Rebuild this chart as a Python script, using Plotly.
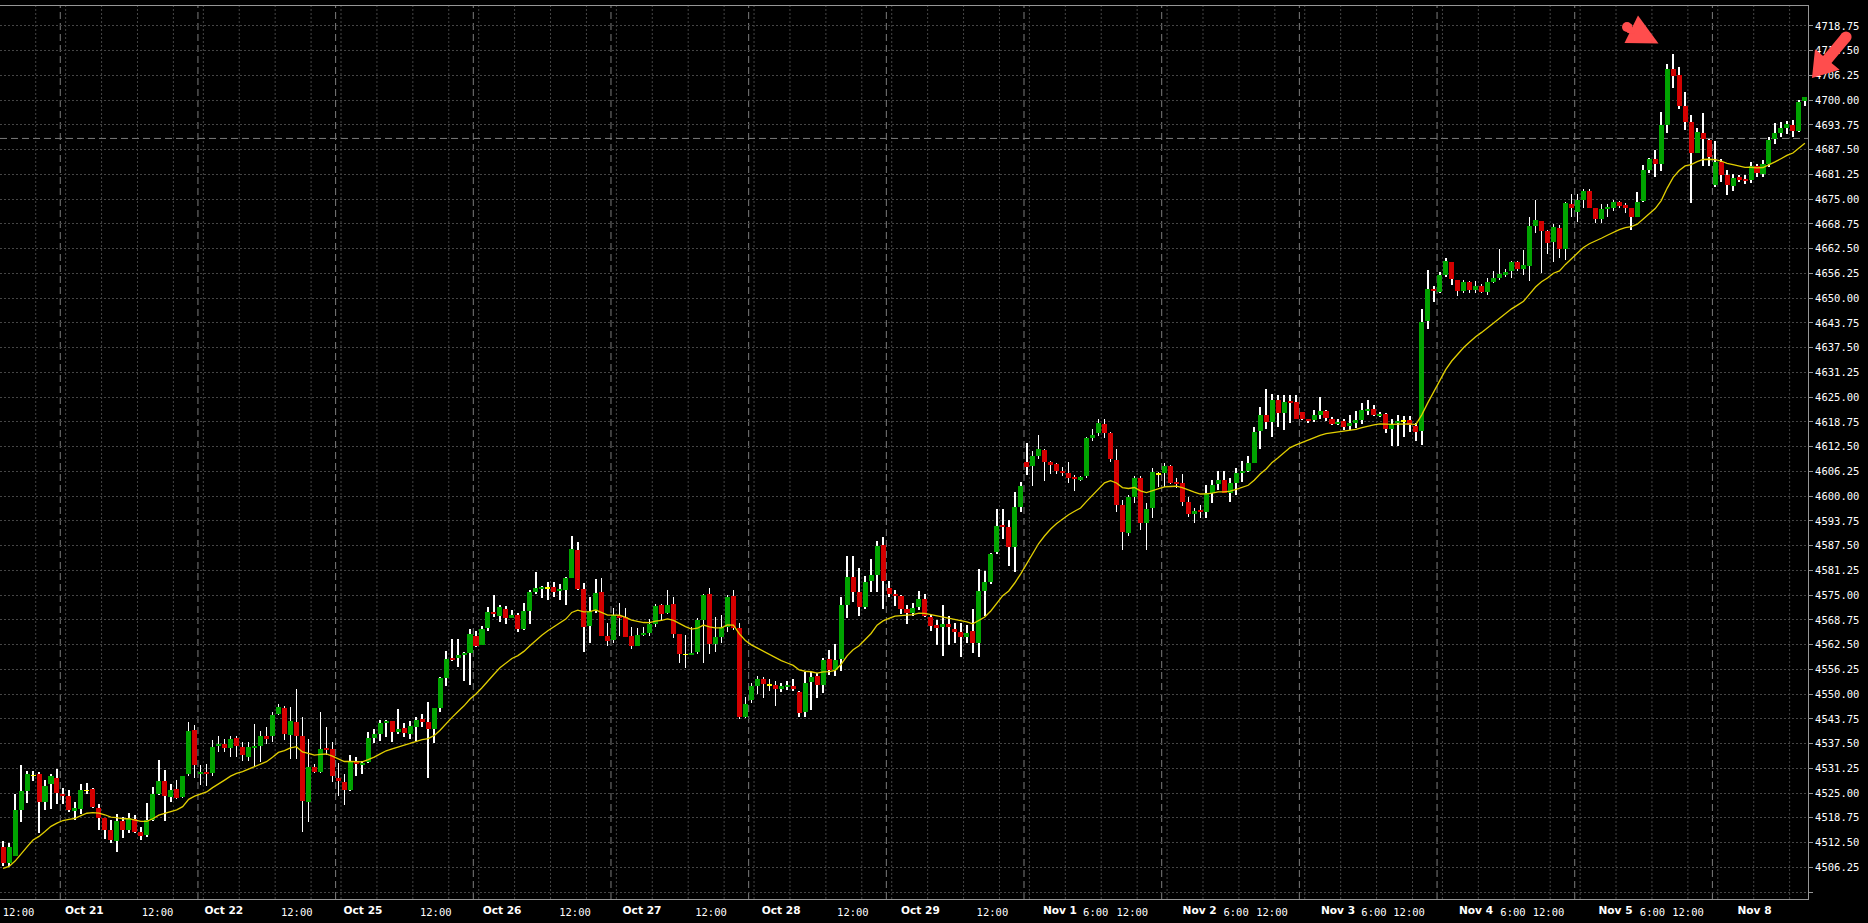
import plotly.graph_objects as go

# ---------------- data (hourly bars, Oct 20 -> Nov 8) ----------------
opens = [
4511.4, 4507.4, 4509.1, 4520.6, 4525.4, 4529.5, 4529.7, 4522.7, 4527.2, 4528.9,
4524.8, 4524.2, 4520.7, 4521.1, 4525.7, 4525.9, 4521.2, 4518.7, 4515.6, 4512.9,
4517.9, 4515.6, 4518.5, 4515.1, 4514.3, 4518.1, 4524.7, 4528.0, 4524.0, 4525.9,
4524.0, 4529.9, 4541.0, 4530.0, 4530.4, 4530.0, 4536.8, 4537.4, 4536.4, 4538.9,
4536.7, 4534.2, 4536.6, 4537.0, 4539.3, 4539.3, 4545.0, 4546.5, 4539.7, 4543.0,
4539.5, 4522.7, 4531.7, 4530.3, 4536.4, 4536.2, 4528.8, 4527.9, 4525.7, 4533.2,
4532.2, 4532.9, 4538.8, 4539.9, 4542.8, 4543.1, 4540.5, 4541.5, 4540.0, 4541.8,
4543.6, 4542.9, 4541.3, 4546.6, 4554.1, 4559.2, 4559.2, 4559.9, 4560.5, 4564.7,
4562.4, 4566.6, 4570.8, 4569.7, 4571.6, 4569.3, 4570.0, 4566.5, 4571.0, 4575.9,
4576.7, 4576.8, 4577.0, 4576.1, 4576.3, 4579.2, 4586.4, 4576.5, 4567.2, 4571.0,
4575.9, 4564.7, 4563.7, 4569.7, 4569.4, 4564.7, 4562.2, 4564.9, 4565.4, 4567.7,
4572.5, 4570.4, 4572.7, 4565.2, 4560.0, 4559.9, 4560.7, 4568.7, 4575.2, 4562.6,
4564.3, 4566.9, 4574.7, 4566.8, 4544.3, 4548.6, 4552.0, 4553.7, 4552.3, 4552.3,
4551.4, 4552.0, 4552.0, 4550.6, 4545.4, 4553.1, 4554.6, 4552.3, 4558.8, 4556.2,
4558.8, 4572.5, 4579.6, 4575.9, 4571.9, 4578.6, 4580.1, 4587.6, 4576.9, 4575.2,
4574.8, 4571.4, 4570.6, 4571.9, 4573.9, 4569.4, 4567.4, 4566.9, 4567.7, 4566.5,
4565.7, 4564.3, 4565.9, 4563.0, 4576.0, 4578.2, 4586.0, 4592.7, 4592.3, 4587.2,
4597.2, 4608.7, 4607.5, 4610.1, 4611.6, 4608.5, 4608.1, 4606.3, 4605.9, 4604.7,
4604.2, 4605.1, 4614.6, 4615.9, 4618.2, 4615.9, 4609.1, 4597.7, 4590.8, 4599.9,
4604.7, 4593.1, 4597.1, 4605.6, 4605.9, 4607.6, 4603.6, 4603.2, 4598.6, 4595.6,
4596.5, 4596.1, 4600.7, 4603.1, 4604.2, 4600.7, 4603.2, 4605.9, 4606.4, 4608.4,
4616.5, 4620.5, 4618.8, 4624.3, 4621.1, 4623.9, 4623.9, 4621.3, 4619.4, 4619.2,
4620.5, 4621.5, 4619.4, 4618.2, 4619.0, 4617.8, 4618.5, 4619.2, 4621.6, 4621.9,
4620.3, 4620.7, 4617.0, 4618.5, 4619.0, 4619.2, 4617.7, 4616.4, 4644.3, 4652.3,
4651.6, 4655.8, 4659.2, 4654.6, 4651.9, 4654.0, 4652.0, 4653.1, 4651.6, 4654.0,
4655.2, 4656.1, 4656.9, 4659.2, 4657.3, 4658.1, 4668.2, 4669.5, 4666.9, 4664.2,
4667.8, 4662.4, 4673.9, 4671.8, 4674.9, 4677.0, 4672.8, 4669.9, 4672.5, 4672.9,
4674.2, 4673.5, 4672.8, 4670.6, 4674.5, 4682.5, 4685.1, 4684.0, 4693.7, 4707.9,
4706.4, 4698.5, 4694.6, 4686.7, 4691.6, 4689.9, 4678.6, 4684.3, 4681.1, 4678.3,
4680.5, 4680.0, 4679.8, 4683.5, 4681.4, 4683.9, 4690.1, 4691.6, 4692.9, 4693.7,
4692.3, 4699.9,
]

highs = [
4512.9, 4512.5, 4524.7, 4532.2, 4530.5, 4530.5, 4530.2, 4528.2, 4529.9, 4531.1,
4526.3, 4525.7, 4522.7, 4527.3, 4527.6, 4526.3, 4522.3, 4518.8, 4518.1, 4519.8,
4519.0, 4520.0, 4519.5, 4516.4, 4522.5, 4526.5, 4533.4, 4530.7, 4527.3, 4528.4,
4529.4, 4543.0, 4542.3, 4532.0, 4532.3, 4538.4, 4539.5, 4538.7, 4539.5, 4539.5,
4537.8, 4538.0, 4542.5, 4540.8, 4541.6, 4545.4, 4547.5, 4547.1, 4546.8, 4551.3,
4544.1, 4538.7, 4532.4, 4545.6, 4541.6, 4537.8, 4532.5, 4529.8, 4534.5, 4534.2,
4533.2, 4540.3, 4541.3, 4543.5, 4543.5, 4543.1, 4546.2, 4542.6, 4543.3, 4544.1,
4544.9, 4548.1, 4546.6, 4554.4, 4560.9, 4563.9, 4563.9, 4560.7, 4566.4, 4566.0,
4567.3, 4571.9, 4575.0, 4572.5, 4572.2, 4571.2, 4570.4, 4573.1, 4576.3, 4580.9,
4577.3, 4578.4, 4578.4, 4577.7, 4579.5, 4589.9, 4588.5, 4578.0, 4574.6, 4579.0,
4579.2, 4568.0, 4571.7, 4572.9, 4571.7, 4566.9, 4566.8, 4567.0, 4568.9, 4572.7,
4572.7, 4576.3, 4574.6, 4565.2, 4564.9, 4567.0, 4569.1, 4575.4, 4576.7, 4569.4,
4570.0, 4575.0, 4576.2, 4567.9, 4549.3, 4552.7, 4554.5, 4554.4, 4553.7, 4553.4,
4552.7, 4553.4, 4553.7, 4550.8, 4555.6, 4555.6, 4555.3, 4559.1, 4561.2, 4562.7,
4574.4, 4584.8, 4584.8, 4581.9, 4579.9, 4584.0, 4588.7, 4589.7, 4578.6, 4576.2,
4575.0, 4572.5, 4572.9, 4576.1, 4575.3, 4570.0, 4568.7, 4572.5, 4569.7, 4568.0,
4567.9, 4567.4, 4571.4, 4581.5, 4581.1, 4585.7, 4596.8, 4596.7, 4594.0, 4601.1,
4603.6, 4613.3, 4611.3, 4615.4, 4611.8, 4609.0, 4608.4, 4607.4, 4608.7, 4605.3,
4605.1, 4615.0, 4616.9, 4619.4, 4619.4, 4616.3, 4611.8, 4599.0, 4600.3, 4605.1,
4605.1, 4598.3, 4607.0, 4606.2, 4608.3, 4607.9, 4604.5, 4605.7, 4599.9, 4596.9,
4597.8, 4602.8, 4604.2, 4606.4, 4606.4, 4604.5, 4607.0, 4608.9, 4610.1, 4617.5,
4622.6, 4627.0, 4625.8, 4625.5, 4625.5, 4625.5, 4625.5, 4621.3, 4619.6, 4621.8,
4625.1, 4621.8, 4620.1, 4619.4, 4619.4, 4620.5, 4621.5, 4623.4, 4624.3, 4623.0,
4621.3, 4620.9, 4619.4, 4620.5, 4620.2, 4620.2, 4618.4, 4647.2, 4657.1, 4653.1,
4656.7, 4660.2, 4659.2, 4654.6, 4654.7, 4654.4, 4654.4, 4653.7, 4655.2, 4656.8,
4662.3, 4657.3, 4659.5, 4659.5, 4662.1, 4670.4, 4674.8, 4669.5, 4667.2, 4668.7,
4668.6, 4674.4, 4676.3, 4676.3, 4677.5, 4677.6, 4672.8, 4673.7, 4673.9, 4674.8,
4674.5, 4674.1, 4672.8, 4676.7, 4683.6, 4685.3, 4687.4, 4697.1, 4709.1, 4711.7,
4708.3, 4702.1, 4696.3, 4692.9, 4696.8, 4690.1, 4689.8, 4685.1, 4682.4, 4681.4,
4681.1, 4681.1, 4684.3, 4683.9, 4684.9, 4690.8, 4694.3, 4694.6, 4694.7, 4695.0,
4700.0, 4700.9,
]

lows = [
4506.7, 4506.7, 4509.0, 4517.7, 4522.5, 4528.0, 4514.8, 4520.6, 4521.0, 4522.3,
4522.3, 4520.2, 4518.1, 4519.8, 4524.8, 4521.3, 4515.6, 4513.3, 4512.3, 4510.2,
4513.7, 4514.8, 4514.8, 4513.1, 4513.9, 4518.0, 4524.4, 4518.0, 4522.7, 4523.6,
4523.8, 4529.2, 4528.8, 4527.1, 4526.8, 4529.4, 4535.3, 4535.3, 4534.2, 4534.0,
4533.2, 4533.2, 4531.7, 4532.8, 4537.4, 4537.8, 4544.8, 4538.3, 4533.6, 4533.6,
4515.2, 4517.7, 4530.0, 4530.0, 4534.7, 4527.8, 4524.2, 4522.1, 4525.6, 4529.2,
4529.7, 4532.5, 4537.6, 4538.2, 4539.2, 4538.0, 4539.8, 4539.1, 4538.6, 4538.2,
4541.8, 4528.7, 4537.7, 4545.5, 4552.0, 4558.4, 4556.9, 4553.4, 4552.3, 4562.0,
4562.4, 4566.0, 4569.4, 4568.3, 4567.6, 4569.1, 4565.8, 4566.3, 4567.6, 4575.4,
4574.2, 4573.8, 4574.6, 4573.8, 4572.5, 4579.2, 4576.3, 4560.7, 4563.0, 4570.4,
4564.7, 4562.1, 4563.0, 4564.7, 4564.3, 4561.4, 4562.2, 4564.7, 4564.7, 4567.0,
4568.7, 4570.2, 4564.1, 4557.9, 4556.5, 4559.9, 4560.1, 4557.9, 4560.1, 4560.7,
4563.0, 4565.8, 4566.2, 4543.6, 4543.9, 4547.8, 4550.1, 4548.9, 4550.9, 4547.0,
4550.6, 4551.0, 4550.8, 4544.3, 4544.3, 4546.0, 4549.1, 4550.4, 4554.8, 4554.6,
4555.9, 4569.1, 4573.3, 4569.6, 4571.4, 4575.9, 4575.9, 4571.4, 4574.6, 4572.3,
4570.2, 4567.8, 4569.6, 4571.3, 4569.4, 4566.0, 4562.4, 4559.6, 4562.4, 4562.8,
4559.3, 4562.8, 4560.5, 4559.3, 4569.6, 4577.7, 4585.5, 4589.1, 4582.4, 4580.9,
4596.0, 4605.3, 4602.5, 4609.3, 4603.7, 4605.5, 4605.5, 4605.1, 4603.4, 4601.3,
4603.7, 4604.5, 4614.0, 4615.2, 4614.6, 4608.7, 4596.1, 4586.5, 4589.9, 4598.3,
4591.4, 4586.5, 4594.4, 4602.4, 4602.4, 4603.1, 4602.0, 4597.5, 4594.8, 4593.1,
4594.6, 4594.4, 4598.2, 4601.5, 4600.7, 4598.6, 4600.3, 4603.6, 4606.2, 4608.4,
4611.8, 4616.9, 4615.0, 4617.4, 4616.7, 4618.5, 4619.4, 4619.2, 4618.5, 4618.8,
4619.4, 4619.0, 4617.9, 4617.9, 4616.7, 4616.7, 4617.1, 4618.1, 4620.5, 4620.2,
4620.1, 4616.0, 4612.7, 4612.7, 4615.0, 4616.3, 4614.0, 4612.9, 4642.1, 4649.1,
4651.2, 4655.4, 4653.3, 4650.5, 4651.2, 4651.4, 4651.4, 4651.2, 4650.8, 4653.9,
4654.6, 4655.4, 4655.0, 4656.9, 4655.8, 4654.4, 4666.5, 4656.4, 4661.1, 4659.2,
4660.1, 4659.6, 4670.6, 4669.3, 4672.7, 4672.7, 4668.9, 4669.1, 4670.6, 4672.1,
4672.9, 4671.4, 4667.3, 4670.6, 4674.4, 4681.7, 4680.5, 4682.1, 4691.8, 4703.0,
4697.9, 4692.5, 4674.1, 4686.7, 4683.4, 4683.4, 4678.0, 4679.4, 4676.0, 4677.1,
4679.4, 4678.8, 4679.0, 4680.5, 4680.5, 4683.2, 4688.9, 4690.8, 4691.4, 4690.8,
4692.0, 4698.5,
]

closes = [
4507.4, 4511.4, 4520.6, 4525.4, 4529.7, 4529.5, 4522.7, 4526.9, 4529.2, 4525.1,
4524.3, 4520.8, 4521.2, 4525.8, 4525.7, 4521.5, 4518.8, 4515.6, 4513.1, 4517.9,
4515.6, 4518.8, 4515.2, 4514.2, 4518.1, 4524.7, 4528.0, 4524.2, 4525.7, 4523.8,
4529.4, 4540.8, 4532.0, 4530.3, 4529.8, 4536.7, 4537.4, 4536.4, 4538.7, 4536.8,
4534.5, 4536.6, 4537.0, 4539.3, 4538.8, 4544.8, 4546.8, 4539.8, 4543.3, 4539.5,
4522.9, 4531.7, 4530.3, 4536.2, 4536.0, 4529.3, 4528.0, 4525.7, 4533.0, 4532.4,
4532.6, 4538.8, 4539.9, 4542.8, 4543.1, 4540.5, 4541.1, 4540.1, 4542.0, 4543.5,
4543.0, 4541.2, 4546.6, 4554.1, 4558.8, 4558.6, 4559.9, 4560.5, 4565.1, 4562.2,
4566.4, 4570.8, 4570.2, 4571.9, 4569.3, 4570.0, 4566.5, 4571.0, 4575.9, 4576.7,
4577.0, 4576.8, 4575.9, 4576.5, 4579.2, 4586.6, 4576.5, 4567.0, 4571.0, 4575.6,
4564.7, 4563.4, 4570.1, 4569.4, 4564.5, 4562.2, 4564.9, 4565.5, 4567.7, 4572.2,
4570.2, 4572.5, 4565.2, 4560.1, 4560.0, 4560.3, 4568.7, 4575.0, 4562.6, 4564.3,
4566.9, 4574.6, 4566.8, 4544.1, 4547.6, 4552.0, 4553.7, 4552.5, 4552.3, 4551.4,
4552.0, 4552.3, 4551.4, 4545.2, 4552.7, 4554.4, 4552.3, 4558.6, 4556.2, 4558.6,
4572.5, 4579.6, 4575.9, 4571.9, 4578.4, 4580.1, 4587.4, 4578.6, 4575.4, 4574.8,
4571.4, 4570.6, 4571.7, 4573.9, 4569.6, 4567.3, 4566.8, 4567.7, 4566.9, 4565.7,
4564.4, 4565.5, 4563.0, 4576.0, 4578.2, 4585.5, 4592.5, 4592.3, 4587.2, 4597.2,
4602.5, 4607.3, 4610.1, 4611.8, 4608.5, 4608.1, 4606.4, 4605.9, 4604.6, 4604.4,
4604.9, 4614.7, 4615.4, 4618.5, 4616.0, 4609.3, 4597.7, 4591.0, 4599.9, 4604.5,
4593.3, 4596.7, 4606.0, 4605.6, 4607.6, 4603.4, 4603.1, 4598.6, 4595.6, 4596.2,
4596.1, 4600.7, 4602.8, 4604.2, 4600.7, 4603.2, 4605.9, 4606.4, 4608.3, 4616.3,
4620.5, 4618.8, 4624.3, 4621.1, 4623.9, 4623.6, 4619.6, 4619.4, 4619.1, 4620.5,
4621.5, 4619.8, 4618.2, 4618.8, 4617.5, 4618.5, 4619.2, 4621.7, 4621.9, 4620.5,
4620.7, 4617.0, 4618.2, 4618.8, 4619.0, 4618.0, 4616.3, 4643.9, 4652.2, 4651.9,
4655.8, 4659.4, 4654.8, 4651.9, 4654.0, 4652.0, 4653.1, 4651.6, 4654.0, 4655.2,
4656.1, 4656.6, 4659.2, 4657.3, 4658.4, 4668.2, 4669.7, 4666.9, 4664.0, 4667.9,
4662.4, 4674.1, 4672.9, 4674.8, 4677.0, 4672.8, 4670.0, 4672.5, 4673.1, 4674.2,
4673.3, 4672.9, 4670.4, 4674.4, 4682.5, 4685.1, 4684.0, 4693.7, 4707.9, 4706.2,
4698.5, 4694.6, 4686.7, 4691.9, 4690.1, 4685.7, 4684.3, 4681.1, 4678.6, 4680.3,
4680.1, 4679.7, 4683.5, 4681.5, 4683.9, 4689.9, 4691.6, 4692.9, 4694.0, 4692.3,
4699.6, 4700.7,
]

# first bar index of each trading day after Oct 20 (23 hourly bars per day)
day_start_bars = [10, 33, 56, 79, 102, 125, 148, 171, 194, 217, 240, 263, 286]

date_labels = ["Oct 21", "Oct 22", "Oct 25", "Oct 26", "Oct 27", "Oct 28", "Oct 29",
               "Nov 1", "Nov 2", "Nov 3", "Nov 4", "Nov 5", "Nov 8"]
date_label_pos = [13.56, 36.87, 60.12, 83.35, 106.73, 129.99, 153.24,
                  176.55, 199.88, 223.0, 246.06, 269.36, 292.58]

time_labels = ["12:00", "12:00", "12:00", "12:00", "12:00", "12:00", "12:00", "12:00",
               "6:00", "12:00", "6:00", "12:00", "6:00", "12:00", "6:00", "12:00",
               "6:00", "12:00"]
time_label_pos = [2.57, 25.79, 49.06, 72.28, 95.54, 118.26, 141.96, 165.27,
                  182.53, 188.64, 205.98, 211.98, 229.02, 234.87, 252.24, 258.17,
                  275.54, 281.47]

price_ticks = [4500 + 6.25 * k for k in range(36)]
price_labels = ["" if v == 4500 else f"{v:.2f}" for v in price_ticks]

hline_price = 4690.35
ma_period = 20
ma_seed = 4505.8

# ---------------- styling ----------------
BG = "#000000"
GRID = "#454545"
AXIS = "#969696"
UP = "#00a300"
DOWN = "#d40000"
DOJI = "#ffff00"
MA_COLOR = "#e2cf00"
ARROW = "#ff4d4d"

n = len(closes)
idx = list(range(n))

body_base, body_h, body_col = [], [], []
for o, c in zip(opens, closes):
    if c > o:
        body_base.append(o); body_h.append(c - o); body_col.append(UP)
    elif c < o:
        body_base.append(c); body_h.append(o - c); body_col.append(DOWN)
    else:
        body_base.append(o - 0.03); body_h.append(0.06); body_col.append(DOJI)

wick_base = lows
wick_h = [h - l for h, l in zip(highs, lows)]

# exponential moving average of closes
alpha = 2.0 / (ma_period + 1)
ema = []
m = ma_seed
for c in closes:
    m = m + alpha * (c - m)
    ema.append(m)

fig = go.Figure()
fig.add_trace(go.Bar(x=idx, y=wick_h, base=wick_base, width=0.1,
                     marker=dict(color="#ffffff", line=dict(width=0)),
                     hoverinfo="skip"))
fig.add_trace(go.Bar(x=idx, y=body_h, base=body_base, width=0.84,
                     marker=dict(color=body_col, line=dict(width=0)),
                     hoverinfo="skip"))
fig.add_trace(go.Scatter(x=idx, y=ema, mode="lines",
                         line=dict(color=MA_COLOR, width=1.3), hoverinfo="skip"))

# ---------------- layout ----------------
W, H = 1868, 923
ML, MR, MT, MB = 0, 60, 6, 24
PW, PH = W - ML - MR, H - MT - MB

x_range = [-0.518, 301.52]
y_range = [4498.24, 4723.8]

shapes = []
# vertical dotted grid (every 6 bars from each day start)
for d in [-13] + day_start_bars:
    for k in range(4):
        xv = d + 0.45 + 6 * k
        if x_range[0] + 0.3 < xv < x_range[1]:
            shapes.append(dict(type="line", xref="x", yref="paper", x0=xv, x1=xv, y0=0, y1=1,
                               line=dict(color=GRID, width=1, dash="2px,2px"), layer="below"))
# day separators
for d in day_start_bars:
    xv = d - 0.45
    shapes.append(dict(type="line", xref="x", yref="paper", x0=xv, x1=xv, y0=0, y1=1,
                       line=dict(color="#7c7c7c", width=1, dash="7px,4px"), layer="below"))
# horizontal dashed level
shapes.append(dict(type="line", xref="paper", yref="y", x0=0, x1=1, y0=hline_price, y1=hline_price,
                   line=dict(color="#7c7c7c", width=1, dash="7px,4px"), layer="below"))


def pp(x, y):
    return f"{x / PW:.5f},{(PH + MT - y) / PH:.5f}"


def poly(pts):
    return "M " + " L ".join(pp(x, y) for x, y in pts) + " Z"


def circ(cx, cy, r):
    return dict(type="circle", xref="paper", yref="paper",
                x0=(cx - r) / PW, x1=(cx + r) / PW,
                y0=(PH + MT - cy - r) / PH, y1=(PH + MT - cy + r) / PH,
                fillcolor=ARROW, line=dict(width=0), layer="above")


# arrow near the top peak
shapes.append(dict(type="path", xref="paper", yref="paper",
                   path=poly([(1638, 15.5), (1658.5, 43.5), (1624.5, 43.0)]),
                   fillcolor=ARROW, line=dict(width=0), layer="above"))
shapes.append(dict(type="path", xref="paper", yref="paper",
                   path=poly([(1623.5, 24.5), (1631.5, 24.0), (1634.5, 33.5), (1627.5, 33.0)]),
                   fillcolor=ARROW, line=dict(width=0), layer="above"))
shapes.append(circ(1627.0, 27.0, 5.0))
# arrow on the price scale
shapes.append(dict(type="path", xref="paper", yref="paper",
                   path=poly([(1850.2, 40.5), (1831.5, 63.0), (1839.6, 69.7), (1812.0, 78.0),
                              (1815.0, 49.3), (1823.1, 56.0), (1841.8, 33.5)]),
                   fillcolor=ARROW, line=dict(width=0), layer="above"))
shapes.append(circ(1846.0, 37.0, 5.6))

fig.update_layout(
    width=W, height=H,
    margin=dict(l=ML, r=MR, t=MT, b=MB, pad=0),
    paper_bgcolor=BG, plot_bgcolor=BG,
    barmode="overlay", bargap=0, showlegend=False,
    shapes=shapes,
    xaxis=dict(range=x_range, tickmode="array", tickvals=time_label_pos, ticktext=time_labels,
               showgrid=False, zeroline=False, showline=True, linecolor=AXIS, linewidth=1,
               mirror=True, ticks="", ticklabelstandoff=3,
               tickfont=dict(family="DejaVu Sans Mono", size=10.5, color="#ffffff")),
    xaxis2=dict(overlaying="x", matches="x", anchor="y", side="bottom", range=x_range,
                tickmode="array", tickvals=date_label_pos, ticktext=date_labels,
                showgrid=False, zeroline=False, showline=False, ticks="", ticklabelstandoff=3,
                tickfont=dict(family="DejaVu Sans", size=10.6, color="#ffffff", weight="bold")),
    yaxis=dict(range=y_range, side="right", tickmode="array", tickvals=price_ticks,
               ticktext=price_labels, showgrid=True, gridcolor=GRID, griddash="2px,2px",
               gridwidth=1, zeroline=False, showline=True, linecolor=AXIS, linewidth=1,
               mirror=True, ticks="outside", ticklen=4, tickcolor=AXIS,
               tickfont=dict(family="DejaVu Sans Mono", size=10.5, color="#ffffff")),
)

# an invisible helper trace so the date axis is rendered
fig.add_trace(go.Scatter(x=[0], y=[4600], xaxis="x2", mode="markers",
                         marker=dict(opacity=0), hoverinfo="skip"))

fig.write_html("out.html", config={"displayModeBar": False},
               post_script="document.body.style.margin='0';document.body.style.overflow='hidden';")
